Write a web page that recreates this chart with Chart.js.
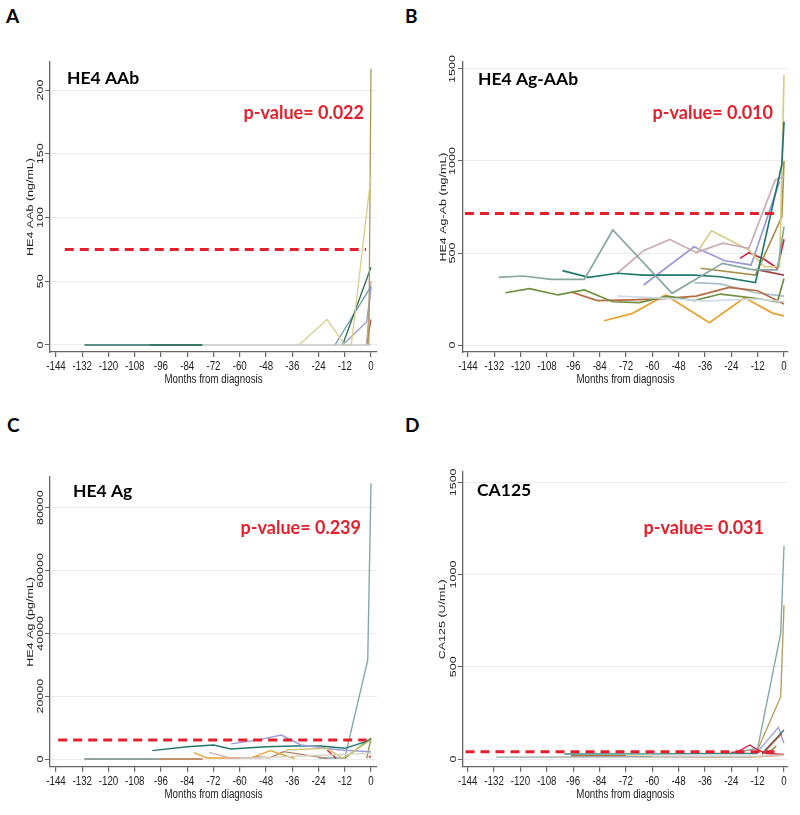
<!DOCTYPE html>
<html>
<head>
<meta charset="utf-8">
<script src="https://cdn.jsdelivr.net/npm/chart.js@4.4.1/dist/chart.umd.min.js"></script>
<style>
  body { margin: 0; background: #fff; width: 800px; height: 815px; position: relative; overflow: hidden; }
  canvas { position: absolute; }
  .letter { position: absolute; font: bold 19px Lato, "Open Sans", sans-serif; color: #000; line-height: 1; }
</style>
</head>
<body>
<div class="letter" style="left:6px;top:6px">A</div>
<div class="letter" style="left:405px;top:6px">B</div>
<div class="letter" style="left:7px;top:415px">C</div>
<div class="letter" style="left:405px;top:415px">D</div>
<canvas id="cA" width="400" height="400" style="left:0;top:0"></canvas>
<canvas id="cB" width="400" height="400" style="left:400px;top:0"></canvas>
<canvas id="cC" width="400" height="415" style="left:0;top:400px"></canvas>
<canvas id="cD" width="400" height="415" style="left:400px;top:400px"></canvas>
<script>
// ticks
const monthTicks = [-144, -132, -120, -108, -96, -84, -72, -60, -48, -36, -24, -12, 0];
const aabTicks = [0, 50, 100, 150, 200];
const agAabTicks = [0, 500, 1000, 1500];
const agTicks = [0, 20000, 40000, 60000, 80000];
const ca125Ticks = [0, 500, 1000, 1500];

// cut-off lines: value, first month, last month
const aabCutoff = [75, -140, -2.3];
const agAabCutoff = [715, -145.4, -3.2];
const agCutoff = [6050, -143, -2];
const ca125Cutoff = [40, -145, -4];

const panelNames = ['HE4 AAb', 'HE4 Ag-AAb', 'HE4 Ag', 'CA125'];
const pValues = ['p-value= 0.022', 'p-value= 0.010', 'p-value= 0.239', 'p-value= 0.031'];
const yTitles = ['HE4 AAb (ng/mL)', 'HE4 Ag-Ab (ng/mL)', 'HE4 Ag (pg/mL)', 'CA125 (U/mL)'];
const xTitle = 'Months from diagnosis';

// A: HE4 AAb, [month, value]
const aabGrayFlat = [[-77, 0], [-48, 0], [-24, 0], [-12, 0], [0, 0]];
const aabTealFlat = [[-131, 0], [-110, 0], [-77, 0]];
const aabGreenFlat = [[-101, 0], [-77, 0]];
const aabKhaki = [[-33, 0], [-20, 20], [-12, 0], [-9, 0], [0, 133]];
const aabOlive = [[-1, 0], [0, 217]];
const aabDarkGreen = [[-13, 0], [0, 61]];
const aabSteel = [[-16.5, 0], [0, 46]];
const aabLavender = [[-13, 0], [-2, 18], [0, 45]];
const aabMauve = [[-2, 0], [0, 50]];
const aabBrown = [[-2, 0], [0, 20]];

// B: HE4 Ag-AAb
const agAabGrayTeal = [[-130, 368], [-119, 375], [-106, 357], [-91, 357], [-78, 625], [-51, 281], [-28, 444], [-14, 408], [-3, 408], [0, 643]];
const agAabTeal = [[-101, 404], [-89, 368], [-76, 390], [-64, 380], [-41, 380], [-29, 371], [-13, 339], [-1, 980], [0, 1214]];
const agAabOliveGreen = [[-127, 284], [-116, 306], [-103, 272], [-91, 299], [-78, 235], [-66, 230], [-53, 266], [-41, 241], [-29, 277], [-13, 254], [-3, 235], [0, 362]];
const agAabBrown = [[-97, 288], [-85, 241], [-69, 245], [-53, 253], [-40, 266], [-25, 313], [-12, 295], [0, 223]];
const agAabOrange = [[-82, 132], [-69, 172], [-54, 272], [-34, 121], [-18, 257], [-5, 172], [0, 158]];
const agAabMauve = [[-76, 390], [-64, 513], [-52, 574], [-40, 502], [-28, 553], [-16, 525], [-4, 897], [0, 915]];
const agAabKhaki = [[-40, 498], [-33, 621], [-16, 516], [-9, 426], [-2, 426], [0, 1467]];
const agAabOliveBrown = [[-38, 417], [-13, 380], [-1, 697], [0, 1000]];
const agAabLavender = [[-64, 326], [-41, 534], [-27, 458], [-15, 435], [-2, 890]];
const agAabLightBlue = [[-41, 339], [-29, 332], [-13, 284], [0, 266]];
const agAabPale = [[-76, 266], [-60, 258], [-48, 250], [-36, 238], [-24, 245], [-12, 250], [0, 235]];
const agAabCrimson = [[-20, 471], [-16, 502], [-9, 466], [-3, 417], [0, 574]];
const agAabDarkRed = [[-13, 411], [0, 380]];

// C: HE4 Ag
const agGrayTeal = [[-24, 300], [-12, 300], [-1.5, 31500], [0, 87800]];
const agTeal = [[-100, 2650], [-84, 3920], [-72, 4450], [-64, 3180], [-48, 3920], [-35, 4140], [-23, 4140], [-12, 3400], [0, 6050]];
const agLavender = [[-64, 4800], [-52, 6000], [-41, 7640], [-32, 4460], [-14, 2870], [0, 2330]];
const agOrange = [[-81, 2000], [-75, 300], [-55, 300], [-46, 2650], [-35, 150]];
const agPink = [[-74, 2130], [-65, 400], [-50, 300]];
const agBrownFlat = [[-97, 0], [-77, 0]];
const agGrayFlat = [[-131, 0], [-97, 0]];
const agBrown = [[-54, 730], [-46, 400], [-40, 2330], [-20, 200]];
const agKhaki = [[-39, 2870], [-20, 3400], [-13, 200], [0, 6050]];
const agOlive = [[-12, 200], [0, 6700]];
const agOlive2 = [[-2, 200], [0, 6500]];
const agRed = [[-20, 2870], [-16, 200]];
const agRed2 = [[-1, 500], [0, 900]];
const agLight = [[-60, 200], [-36, 800], [-12, 1500], [0, 1800]];

// D: CA125
const caGrayFlat = [[-131, 10], [-110, 10], [-80, 12], [-40, 12], [-14, 12]];
const caTealFlat = [[-100, 27], [-60, 28], [-30, 30], [-12, 30]];
const caBrownFlat = [[-97, 18], [-72, 18]];
const caOrangeFlat = [[-80, 15], [-40, 12], [-12, 12], [0, 20]];
const caLightFlat = [[-60, 15], [-12, 15], [0, 20]];
const caGrayTeal = [[-24, 30], [-12, 58], [-1.5, 681], [0, 1155]];
const caOliveTan = [[-12, 50], [-1.5, 338], [0, 835]];
const caLavender = [[-12, 40], [-2.5, 172], [0, 85]];
const caTeal = [[-10, 30], [0, 157]];
const caBrown = [[-10, 25], [-1, 139]];
const caCrimson = [[-24, 35], [-21, 40], [-15.5, 76], [-12, 49], [-8, 30], [0, 25]];
const caOlive = [[-8, 30], [-6.5, 40], [-3.5, 70]];

const seriesA = [
  [aabGrayFlat, '#c8c8c8'], [aabTealFlat, '#2d6e62'], [aabGreenFlat, '#3f7a52'],
  [aabKhaki, '#d6cf8c'], [aabOlive, '#a99a58'], [aabDarkGreen, '#2f6b55'],
  [aabSteel, '#7392b8'], [aabLavender, '#9898d0'], [aabMauve, '#c0a0a8'], [aabBrown, '#a05040']
];
const seriesB = [
  [agAabPale, '#cfdce6'], [agAabGrayTeal, '#86a8a0'], [agAabTeal, '#23786e'],
  [agAabOliveGreen, '#6f9040'], [agAabBrown, '#b86a40'], [agAabOrange, '#eaa030'],
  [agAabMauve, '#ccacb4'], [agAabKhaki, '#d6ce84'], [agAabOliveBrown, '#a89048'],
  [agAabLavender, '#9a98d6'], [agAabLightBlue, '#a8c0cc'], [agAabCrimson, '#c8204a'], [agAabDarkRed, '#a04848']
];
const seriesC = [
  [agLight, '#d8d4c4'], [agGrayFlat, '#6f8a80'], [agBrownFlat, '#b07040'], [agPink, '#d4b0b8'],
  [agOrange, '#e8a030'], [agBrown, '#b08060'], [agKhaki, '#cdc47c'], [agLavender, '#9c9cd8'],
  [agTeal, '#23786e'], [agRed, '#d03030'], [agRed2, '#d03030'], [agOlive, '#7a9a40'],
  [agOlive2, '#8a9a50'], [agGrayTeal, '#86a8a8']
];
const seriesD = [
  [caLightFlat, '#cccccc'], [caGrayFlat, '#9aa8a8'], [caTealFlat, '#3a8a80'], [caBrownFlat, '#b07040'],
  [caOrangeFlat, '#e8a030'], [caCrimson, '#d02040'], [caOlive, '#7a9a40'], [caBrown, '#b05040'],
  [caTeal, '#2a7a70'], [caLavender, '#a0a0d8'], [caOliveTan, '#b8a060'], [caGrayTeal, '#86a8a8']
];

const stataFont = "12.5px 'Liberation Sans', Arial, sans-serif";
const squeeze = 0.78; // the Stata graphs were narrowed in the figure

// layout of each panel (pixels inside its canvas)
const panels = [
  { id: 'cA', series: seriesA, yTicks: aabTicks, cutoff: aabCutoff, n: 0, lw: 1.3,
    padTop: 62, padRight: 23, yWidth: 50, xHeight: 48, xMin: -146.74, xMax: 2.74, yMin: -5.5, yMax: 222,
    titleX: 30, tickX: 40, nameX: 67, nameY: 78, pRight: 364, pY: 113 },
  { id: 'cB', series: seriesB, yTicks: agAabTicks, cutoff: agAabCutoff, n: 1, lw: 1.7,
    padTop: 62, padRight: 12, yWidth: 63, xHeight: 48, xMin: -146.28, xMax: 1.82, yMin: -38, yMax: 1538,
    titleX: 43, tickX: 52, nameX: 78, nameY: 79, pRight: 373, pY: 113 },
  { id: 'cC', series: seriesC, yTicks: agTicks, cutoff: agCutoff, n: 2, lw: 1.4,
    padTop: 77, padRight: 23, yWidth: 50, xHeight: 48.3, xMin: -146.74, xMax: 2.74, yMin: -2451, yMax: 89772,
    titleX: 30, tickX: 40, nameX: 73, nameY: 91, pRight: 361, pY: 128 },
  { id: 'cD', series: seriesD, yTicks: ca125Ticks, cutoff: ca125Cutoff, n: 3, lw: 1.4,
    padTop: 72, padRight: 12, yWidth: 62.7, xHeight: 48.3, xMin: -146.28, xMax: 1.82, yMin: -41.7, yMax: 1556,
    titleX: 42.5, tickX: 53, nameX: 77, nameY: 90, pRight: 364, pY: 128 }
];

const annotate = {
  id: 'annotate',
  afterDraw: function (chart, args, p) {
    var ctx = chart.ctx, x = chart.scales.x, y = chart.scales.y, area = chart.chartArea;
    ctx.save();
    ctx.fillStyle = '#222';
    ctx.textAlign = 'center';
    ctx.textBaseline = 'middle';
    ctx.font = stataFont;
    // y tick labels, turned like Stata does
    y.ticks.forEach(function (t) {
      ctx.save();
      ctx.translate(p.tickX, y.getPixelForValue(t.value));
      ctx.rotate(-Math.PI / 2);
      ctx.scale(1, squeeze);
      ctx.fillText(String(t.value), 0, 0);
      ctx.restore();
    });
    ctx.save();
    ctx.translate(p.titleX, (area.top + area.bottom) / 2);
    ctx.rotate(-Math.PI / 2);
    ctx.scale(1, squeeze);
    ctx.fillText(yTitles[p.n], 0, 0);
    ctx.restore();
    // x tick labels and title
    x.ticks.forEach(function (t) {
      ctx.save();
      ctx.translate(x.getPixelForValue(t.value), area.bottom + 15);
      ctx.scale(squeeze, 1);
      ctx.fillText(String(t.value), 0, 0);
      ctx.restore();
    });
    ctx.save();
    ctx.translate((area.left + area.right) / 2, area.bottom + 27.5);
    ctx.scale(squeeze, 1);
    ctx.fillText(xTitle, 0, 0);
    ctx.restore();
    // panel name and p-value
    ctx.textAlign = 'left';
    ctx.fillStyle = '#000';
    ctx.font = "bold 17.5px Lato, 'Open Sans', sans-serif";
    ctx.fillText(panelNames[p.n], p.nameX, p.nameY);
    ctx.textAlign = 'right';
    ctx.fillStyle = '#e3202c';
    ctx.font = "bold 18px Lato, 'Open Sans', sans-serif";
    ctx.fillText(pValues[p.n], p.pRight, p.pY);
    ctx.restore();
  }
};

function toPoints(pairs) {
  return pairs.map(function (d) { return {x: d[0], y: d[1]}; });
}

function makePanel(p) {
  var datasets = p.series.map(function (s) {
    return {data: toPoints(s[0]), borderColor: s[1], borderWidth: p.lw, pointRadius: 0, tension: 0, order: 1};
  });
  datasets.push({
    data: toPoints([[p.cutoff[1], p.cutoff[0]], [p.cutoff[2], p.cutoff[0]]]),
    borderColor: '#e3202c', borderWidth: 3, borderDash: [9, 6], pointRadius: 0, order: 0
  });
  new Chart(document.getElementById(p.id), {
    type: 'line',
    data: {datasets: datasets},
    plugins: [annotate],
    options: {
      responsive: false,
      animation: false,
      devicePixelRatio: 1,
      layout: {padding: {left: 0, top: p.padTop, right: p.padRight, bottom: 0}},
      plugins: {legend: {display: false}, tooltip: {enabled: false}, annotate: p},
      scales: {
        x: {
          type: 'linear', min: p.xMin, max: p.xMax,
          afterBuildTicks: function (s) { s.ticks = monthTicks.map(function (v) { return {value: v}; }); },
          afterFit: function (s) { s.height = p.xHeight; },
          ticks: {display: false},
          grid: {drawOnChartArea: false, tickLength: 5, tickColor: '#666', lineWidth: 1.2},
          border: {color: '#666', width: 1.3}
        },
        y: {
          type: 'linear', min: p.yMin, max: p.yMax,
          afterBuildTicks: function (s) { s.ticks = p.yTicks.map(function (v) { return {value: v}; }); },
          afterFit: function (s) { s.width = p.yWidth; },
          ticks: {display: false},
          grid: {color: '#ececec', lineWidth: 1, tickLength: 5, tickColor: '#666'},
          border: {color: '#666', width: 1.3}
        }
      }
    }
  });
}

panels.forEach(makePanel);
</script>
</body>
</html>
